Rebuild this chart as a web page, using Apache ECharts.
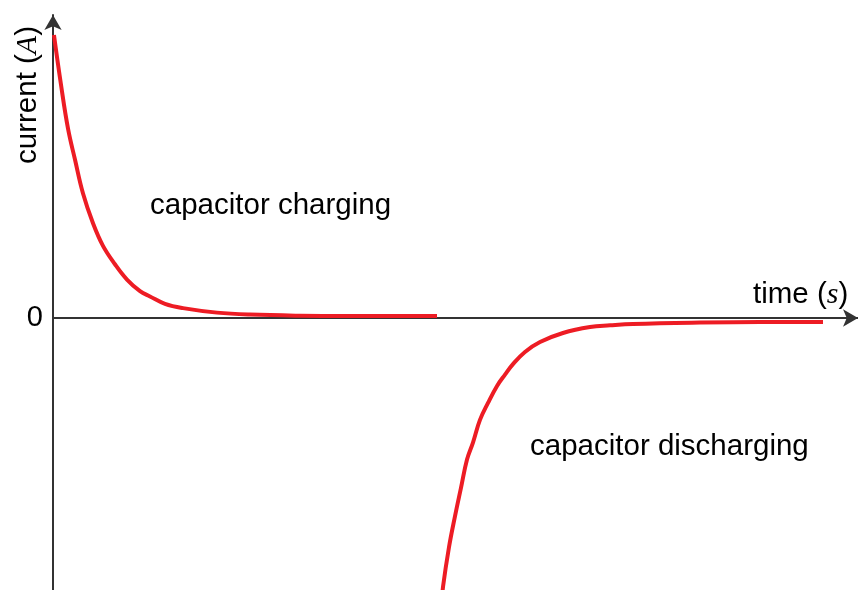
<!DOCTYPE html>
<html>
<head>
<meta charset="utf-8">
<script src="https://cdn.jsdelivr.net/npm/echarts@6/dist/echarts.min.js"></script>
<style>
  html, body { margin: 0; padding: 0; background: #fff; }
  #chart { width: 858px; height: 590px; }
</style>
</head>
<body>
<div id="chart"></div>
<script>
// charging curve (time, current)
const chargeTime = [0.12, 0.99, 1.86, 2.73, 3.73, 4.97, 6.21, 7.7, 9.19, 10.81, 12.05, 13.91, 16.15, 20.37, 24.47, 30.68, 36.89, 47.7];
const chargeCurrent = [1.0, 0.825, 0.67, 0.56, 0.44, 0.335, 0.255, 0.19, 0.136, 0.095, 0.076, 0.05, 0.035, 0.019, 0.012, 0.008, 0.007, 0.007];

// discharging curve (time, current)
const dischargeTime = [48.32, 48.45, 49.19, 49.94, 50.68, 51.43, 52.17, 53.04, 54.04, 55.16, 56.15, 57.14, 58.63, 60.5, 63.35, 66.71, 69.19, 72.05, 80.37, 87.83, 95.65];
const dischargeCurrent = [-1.0, -0.95, -0.81, -0.7, -0.6, -0.5, -0.44, -0.36, -0.3, -0.24, -0.2, -0.163, -0.12, -0.085, -0.053, -0.032, -0.026, -0.021, -0.016, -0.014, -0.014];

const yTickLabels = [0];

let chartDom = document.getElementById('chart');
let myChart = echarts.init(chartDom);

const axisColor = '#333';
const curveColor = '#ed1c24';
const font = 'Liberation Sans, Arial, sans-serif';

function pairs(xs, ys) {
  return xs.map((x, i) => [x, ys[i]]);
}

const option = {
  animation: false,
  grid: { left: 53, right: 0, top: 15, bottom: 0 },
  xAxis: {
    type: 'value',
    min: 0,
    max: 100,
    axisLine: {
      onZero: true,
      symbol: ['none', 'arrow'],
      symbolSize: [13, 15],
      symbolOffset: [0, 0],
      lineStyle: { color: axisColor, width: 2 }
    },
    axisTick: { show: false },
    axisLabel: { show: false },
    splitLine: { show: false }
  },
  yAxis: {
    type: 'value',
    min: -0.9611,
    max: 1.0707,
    axisLine: {
      show: true,
      symbol: ['none', 'arrow'],
      symbolSize: [13, 15],
      symbolOffset: [0, 0],
      lineStyle: { color: axisColor, width: 2 }
    },
    axisTick: { show: false },
    axisLabel: {
      customValues: yTickLabels,
      color: '#000',
      fontFamily: font,
      fontSize: 29,
      margin: 10
    },
    splitLine: { show: false }
  },
  series: [
    {
      name: 'capacitor charging',
      type: 'line',
      data: pairs(chargeTime, chargeCurrent),
      showSymbol: false,
      smooth: 0.4,
      lineStyle: { color: curveColor, width: 4 }
    },
    {
      name: 'capacitor discharging',
      type: 'line',
      data: pairs(dischargeTime, dischargeCurrent),
      showSymbol: false,
      smooth: 0.4,
      lineStyle: { color: curveColor, width: 4 }
    }
  ],
  graphic: [
    {
      type: 'text',
      left: 150,
      top: 191,
      style: { text: 'capacitor charging', font: '29.5px ' + font, fill: '#000' }
    },
    {
      type: 'text',
      left: 530,
      top: 432,
      style: { text: 'capacitor discharging', font: '29.5px ' + font, fill: '#000' }
    },
    {
      type: 'text',
      x: 753,
      y: 295,
      style: {
        text: 'time ({i|s})',
        font: '29.5px ' + font,
        fill: '#000',
        verticalAlign: 'middle',
        rich: {
          i: { fontFamily: 'Liberation Serif, serif', fontStyle: 'italic', fontSize: 30, fill: '#000' }
        }
      }
    },
    {
      type: 'text',
      x: 28,
      y: 95,
      rotation: Math.PI / 2,
      style: {
        text: 'current ({i|A})',
        font: '29.5px ' + font,
        fill: '#000',
        align: 'center',
        verticalAlign: 'middle',
        rich: {
          i: { fontFamily: 'Liberation Serif, serif', fontStyle: 'italic', fontSize: 30, fill: '#000' }
        }
      }
    }
  ]
};

myChart.setOption(option);
</script>
</body>
</html>
